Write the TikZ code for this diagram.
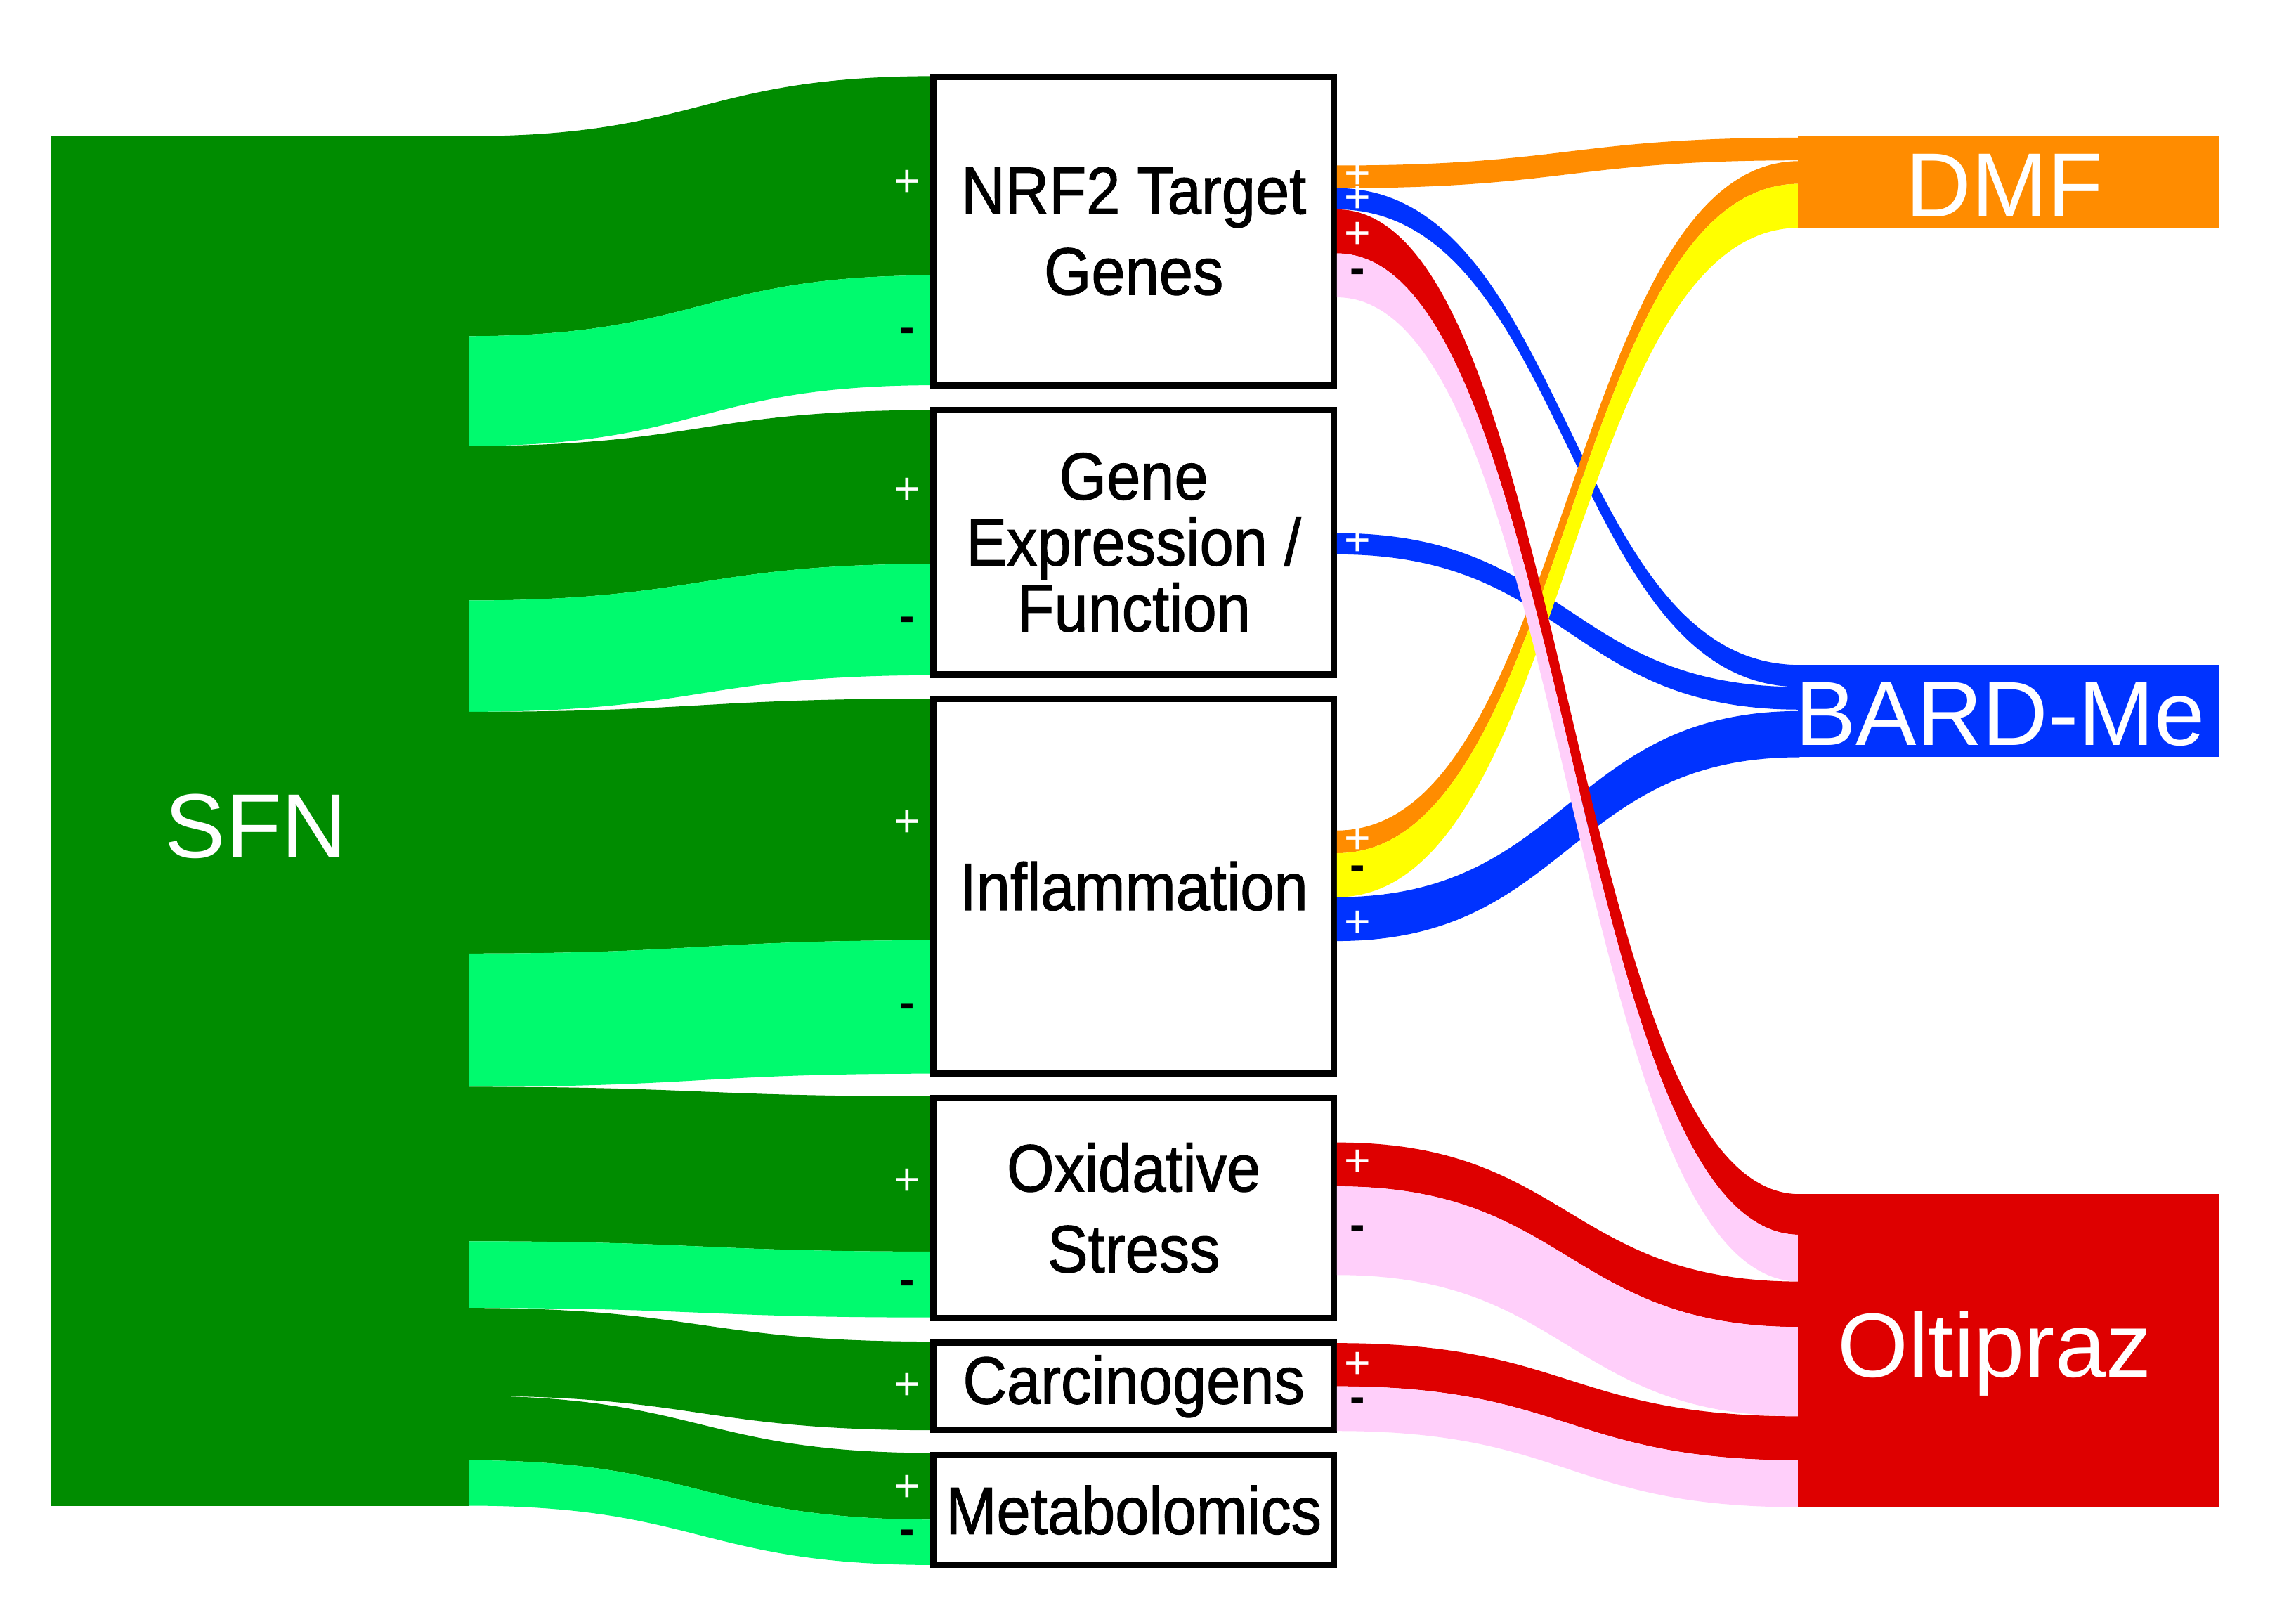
\documentclass[tikz,border=0pt]{standalone}
\usepackage{fontspec}
\setmainfont{Liberation Sans}
\newfontfamily\boxfont[FakeStretch=0.91,FakeBold=1.2]{Liberation Sans}

\definecolor{sfngreen}{HTML}{008C00}
\definecolor{lightgreen}{HTML}{00FA6E}
\definecolor{dmforange}{HTML}{FF8C00}
\definecolor{negyellow}{HTML}{FFFF00}
\definecolor{bardblue}{HTML}{0033FF}
\definecolor{oltred}{HTML}{DE0000}
\definecolor{negpink}{HTML}{FFCFFA}

\newcommand{\ribbon}[7]{\fill[#1] (#2,#3) .. controls ({(#2+#5)/2},#3) and ({(#2+#5)/2},#6) .. (#5,#6) -- (#5,#7) .. controls ({(#2+#5)/2},#7) and ({(#2+#5)/2},#4) .. (#2,#4) -- cycle;}

\begin{document}
\begin{tikzpicture}[x=0.1mm, y=-0.1mm,
  catbox/.style={draw=black, line width=1.25pt, fill=white, inner sep=0pt, align=center, minimum width=27.35mm, font=\boxfont\fontsize{13}{15.7}\selectfont},
  drugbox/.style={inner sep=0pt, outer sep=0pt, minimum width=28.7mm},
  druglabel/.style={text=white, anchor=base, inner sep=0pt, font=\fontsize{17.7}{21}\selectfont},
  possign/.style={text=white, inner sep=0pt, font=\fontsize{8.8}{10}\selectfont},
  negsign/.style={text=black, inner sep=0pt, font=\bfseries\fontsize{8.8}{10}\selectfont}]
 \useasboundingbox (0,0) rectangle (1568,1094);
 \ribbon{sfngreen}{319}{93}{229.5}{638}{52}{188}
 \ribbon{lightgreen}{319}{229.5}{304.5}{638}{188}{263}
 \ribbon{sfngreen}{319}{304.5}{410}{638}{280}{385}
 \ribbon{lightgreen}{319}{410}{486}{638}{385}{461}
 \ribbon{sfngreen}{319}{486}{651}{638}{477}{642}
 \ribbon{lightgreen}{319}{651}{742}{638}{642}{733}
 \ribbon{sfngreen}{319}{742}{847.5}{638}{748.5}{854.5}
 \ribbon{lightgreen}{319}{847.5}{893}{638}{854.5}{899.5}
 \ribbon{sfngreen}{319}{893}{953}{638}{916}{976.5}
 \ribbon{sfngreen}{319}{953}{997}{638}{992}{1037.5}
 \ribbon{lightgreen}{319}{997}{1028}{638}{1037.5}{1068.5}
 \node[drugbox, fill=sfngreen, minimum width=28.55mm, minimum height=93.5mm] (sfn) at (177.25,560.5) {};
 \node[catbox, minimum height=21.09mm] (nrf) at (774.25,157.85) {NRF2 Target\\Genes};
 \node[catbox, minimum height=18.06mm, font=\boxfont\fontsize{13}{12.8}\selectfont] (gene) at (774.25,370.3) {Gene\\Expression /\\Function};
 \node[catbox, minimum height=25.6mm] (infl) at (774.25,605) {Inflammation};
 \node[catbox, minimum height=15.01mm] (oxs) at (774.25,824.65) {Oxidative\\Stress};
 \node[catbox, minimum height=5.95mm] (carc) at (774.25,946.55) {Carcinogens};
 \node[catbox, minimum height=7.47mm] (meta) at (774.25,1030.95) {Metabolomics};
 \ribbon{bardblue}{913}{128.5}{143}{1229}{454}{469}
 \ribbon{bardblue}{913}{364}{378.5}{1229}{469}{484.5}
 \ribbon{bardblue}{913}{612.5}{642.5}{1229}{485.5}{517}
 \ribbon{dmforange}{913}{113}{128.5}{1229}{94}{109.5}
 \ribbon{dmforange}{913}{567}{582.5}{1229}{110}{125.5}
 \ribbon{negyellow}{913}{582.5}{612.5}{1229}{125.5}{155.5}
 \ribbon{oltred}{913}{143}{173}{1229}{815.3}{843}
 \ribbon{negpink}{913}{173}{203}{1229}{843}{875}
 \ribbon{oltred}{913}{780}{810}{1229}{875}{906}
 \ribbon{negpink}{913}{810}{870.5}{1229}{906}{967}
 \ribbon{oltred}{913}{917}{946.5}{1229}{967}{997}
 \ribbon{negpink}{913}{946.5}{977}{1229}{997}{1029}
 \node[drugbox, fill=dmforange, minimum height=6.27mm] (dmf) at (1371.5,124.15) {};
 \node[drugbox, fill=bardblue, minimum height=6.3mm] (bard) at (1371.5,485.5) {};
 \node[drugbox, fill=oltred, minimum height=21.37mm] (olt) at (1371.5,922.15) {};
 \node[druglabel] (sfnlab) at (174.8,585.4) {SFN};
 \node[druglabel] (dmflab) at (1369,148) {DMF};
 \node[druglabel] (bardlab) at (1366,509) {BARD-Me};
 \node[druglabel] (oltlab) at (1362,940.2) {Oltipraz};
 \node[possign] (l1) at (619.5,125.4) {+};
 \node[negsign] (l2) at (619.5,228.8) {-};
 \node[possign] (l3) at (619.5,335.3) {+};
 \node[negsign] (l4) at (619.5,426) {-};
 \node[possign] (l5) at (619.5,562.4) {+};
 \node[negsign] (l6) at (619.5,690) {-};
 \node[possign] (l7) at (619.5,807) {+};
 \node[negsign] (l8) at (619.5,879) {-};
 \node[possign] (l9) at (619.5,946.7) {+};
 \node[possign] (l10) at (619.5,1016) {+};
 \node[negsign] (l11) at (619.5,1049.4) {-};
 \node[possign] (r1) at (927,120) {+};
 \node[possign] (r2) at (927,136) {+};
 \node[possign] (r3) at (927,160.7) {+};
 \node[negsign] (r4) at (927,188.7) {-};
 \node[possign] (r5) at (927,370.3) {+};
 \node[possign] (r6) at (927,574) {+};
 \node[negsign] (r7) at (927,596) {-};
 \node[possign] (r8) at (927,631) {+};
 \node[possign] (r9) at (927,794) {+};
 \node[negsign] (r10) at (927,841.6) {-};
 \node[possign] (r11) at (927,932) {+};
 \node[negsign] (r12) at (927,959.4) {-};
\end{tikzpicture}
\end{document}
